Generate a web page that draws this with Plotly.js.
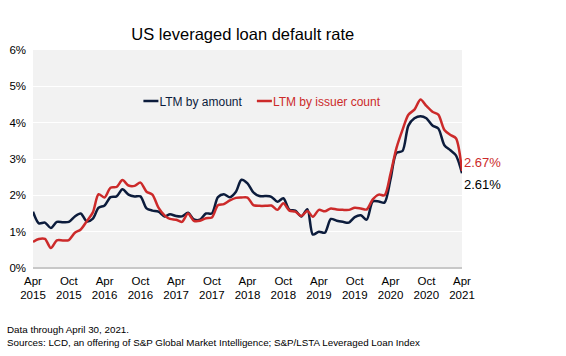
<!DOCTYPE html>
<html>
<head>
<meta charset="utf-8">
<script src="https://cdn.plot.ly/plotly-3.0.1.min.js"></script>
<style>
html,body{margin:0;padding:0;background:#fff;}
#chart{width:566px;height:356px;}
</style>
</head>
<body>
<div id="chart"></div>
<script>
// Monthly LTM default rates, Apr 2015 .. Apr 2021 (%)
var startMonth = "2015-04-01";
var byAmount = [
  1.55, 1.23, 1.25, 1.10, 1.27, 1.26, 1.27, 1.42, 1.50, 1.28, 1.36, 1.66,
  1.72, 1.95, 1.97, 2.17, 2.02, 1.97, 1.97, 1.64, 1.58, 1.55, 1.42, 1.48,
  1.43, 1.42, 1.52, 1.34, 1.33, 1.50, 1.50, 1.95, 2.03, 1.95, 2.10, 2.43,
  2.33, 2.08, 1.98, 1.98, 1.96, 1.82, 1.92, 1.60, 1.58, 1.42, 1.62, 0.92,
  1.00, 0.97, 1.35, 1.30, 1.27, 1.25, 1.40, 1.45, 1.33, 1.83, 1.83, 1.80,
  2.45, 3.17, 3.22, 3.92, 4.12, 4.18, 4.12, 3.92, 3.84, 3.38, 3.24, 3.10,
  2.61
];
var byIssuer = [
  0.72, 0.80, 0.80, 0.55, 0.76, 0.76, 0.77, 0.97, 1.06, 1.29, 1.53, 2.03,
  1.94, 2.21, 2.23, 2.42, 2.27, 2.26, 2.35, 2.10, 2.02, 1.66, 1.45, 1.35,
  1.33, 1.27, 1.50, 1.30, 1.30, 1.37, 1.39, 1.73, 1.76, 1.86, 1.93, 1.94,
  1.94, 1.73, 1.71, 1.71, 1.72, 1.60, 1.78, 1.58, 1.55, 1.43, 1.57, 1.41,
  1.60, 1.56, 1.64, 1.61, 1.60, 1.60, 1.66, 1.64, 1.61, 1.89, 2.02, 2.00,
  2.60, 3.30, 3.80, 4.22, 4.36, 4.64, 4.46, 4.30, 4.22, 3.80, 3.66, 3.57,
  2.67
];
var tickDates = ["2015-04-01","2015-10-01","2016-04-01","2016-10-01","2017-04-01","2017-10-01",
  "2018-04-01","2018-10-01","2019-04-01","2019-10-01","2020-04-01","2020-10-01","2021-04-01"];
var tickLabels = ["Apr<br>2015","Oct<br>2015","Apr<br>2016","Oct<br>2016","Apr<br>2017","Oct<br>2017",
  "Apr<br>2018","Oct<br>2018","Apr<br>2019","Oct<br>2019","Apr<br>2020","Oct<br>2020","Apr<br>2021"];
var yTickVals = [0, 1, 2, 3, 4, 5, 6];
var yTickLabels = ["0%", "1%", "2%", "3%", "4%", "5%", "6%"];
var seriesNames = ["LTM by amount", "LTM by issuer count"];
var endLabels = ["2.61%", "2.67%"];

function monthList(start, n) {
  var y = parseInt(start.slice(0,4),10), m = parseInt(start.slice(5,7),10);
  var out = [];
  for (var i = 0; i < n; i++) {
    out.push(y + "-" + (m < 10 ? "0" : "") + m + "-01");
    m++; if (m > 12) { m = 1; y++; }
  }
  return out;
}
var months = monthList(startMonth, byAmount.length);

var FONT = "Liberation Sans Narrow, Arial Narrow, Liberation Sans, Arial, sans-serif";
var navy = "#0c1c3c", red = "#cc2a2a";

var traces = [
  {x: months, y: byAmount, name: seriesNames[0], type: "scatter", mode: "lines",
   line: {color: navy, width: 2.5, shape: "spline", smoothing: 0.8}},
  {x: months, y: byIssuer, name: seriesNames[1], type: "scatter", mode: "lines",
   line: {color: red, width: 2.5, shape: "spline", smoothing: 0.8}}
];

var last = months[months.length - 1];
var layout = {
  width: 566, height: 356,
  margin: {l: 33, r: 104, t: 50, b: 88},
  paper_bgcolor: "#ffffff",
  plot_bgcolor: "#f2f2f2",
  font: {family: FONT, size: 12, color: "#000"},
  title: {text: "US leveraged loan default rate", x: 0.429, xanchor: "center", y: 0.905, yanchor: "middle",
          font: {family: FONT, size: 16.5, color: "#000"}},
  showlegend: true,
  legend: {orientation: "h", x: 0.2457, y: 0.766, xanchor: "left", yanchor: "middle",
           bgcolor: "rgba(0,0,0,0)", font: {family: FONT, size: 12}, itemwidth: 30,
           tracegroupgap: 0},
  xaxis: {type: "date", range: ["2015-04-01", "2021-04-01"], tickvals: tickDates, ticktext: tickLabels,
          showgrid: false, zeroline: false, showline: false, ticks: "", ticklabelstandoff: 4,
          tickfont: {family: FONT, size: 11.5}, fixedrange: true},
  yaxis: {range: [0, 6], tickvals: yTickVals, ticktext: yTickLabels,
          showgrid: true, gridcolor: "#ffffff", gridwidth: 1, zeroline: true, zerolinecolor: "#c8c8c8",
          zerolinewidth: 1.5, ticks: "", ticklabelstandoff: 6,
          tickfont: {family: FONT, size: 11.5}, fixedrange: true},
  annotations: [
    {x: last, y: byIssuer[byIssuer.length-1], xref: "x", yref: "y", text: endLabels[1],
     showarrow: false, xanchor: "left", yanchor: "middle", xshift: 0, yshift: 8,
     font: {family: FONT, size: 13, color: red}},
    {x: last, y: byAmount[byAmount.length-1], xref: "x", yref: "y", text: endLabels[0],
     showarrow: false, xanchor: "left", yanchor: "middle", xshift: 0, yshift: -11,
     font: {family: FONT, size: 13, color: "#000"}},
    {xref: "paper", yref: "paper", x: -0.0653, y: -0.282, xanchor: "left", yanchor: "middle",
     text: "Data through April 30, 2021.", showarrow: false, font: {family: FONT, size: 9.8}},
    {xref: "paper", yref: "paper", x: -0.0653, y: -0.342, xanchor: "left", yanchor: "middle",
     text: "Sources: LCD, an offering of S&amp;P Global Market Intelligence; S&amp;P/LSTA Leveraged Loan Index",
     showarrow: false, font: {family: FONT, size: 9.8}}
  ]
};

Plotly.newPlot("chart", traces, layout, {displayModeBar: false, staticPlot: true}).then(function(){
  var groups = document.querySelectorAll(".legend .traces");
  var colors = [navy, red];
  var tx0 = null, ty0 = 0, len0 = 0;
  groups.forEach(function(g, i){
    var path = g.querySelector(".legendlines path");
    if (path) path.setAttribute("d", "M5,0h15");
    var t = g.querySelector(".legendtext");
    if (t) { t.setAttribute("x", 21); t.style.fill = colors[i]; }
    var m = /translate\(\s*([-\d.]+)[ ,]+([-\d.]+)/.exec(g.getAttribute("transform") || "");
    if (i === 0) {
      tx0 = m ? parseFloat(m[1]) : 0; ty0 = m ? parseFloat(m[2]) : 0;
      len0 = t ? t.getComputedTextLength() : 85;
    } else if (i === 1) {
      g.setAttribute("transform", "translate(" + (tx0 + 21 + len0 + 10) + "," + ty0 + ")");
    }
  });
});
</script>
</body>
</html>
